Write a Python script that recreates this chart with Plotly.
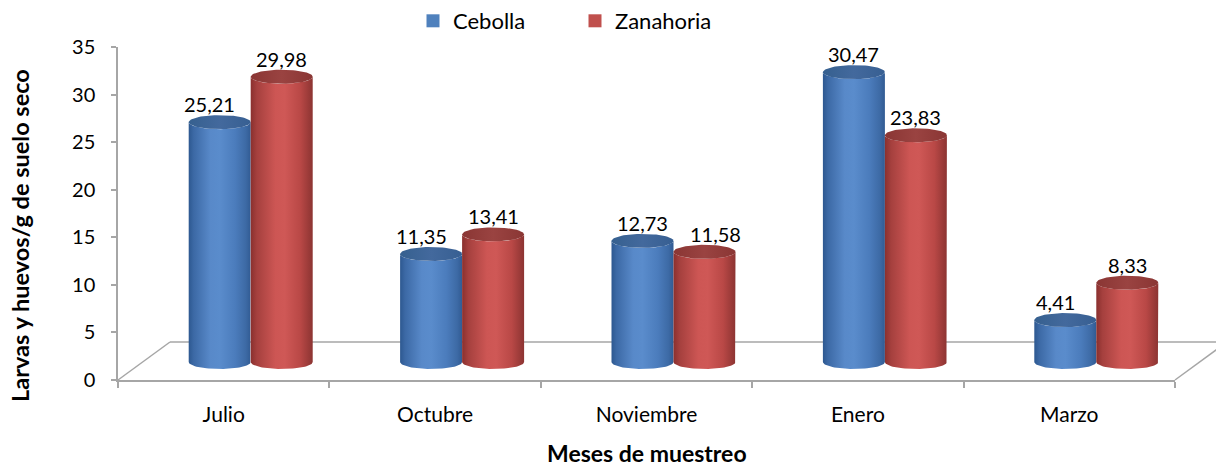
import numpy as np
import plotly.graph_objects as go

# ---------------- data ----------------
meses = ["Julio", "Octubre", "Noviembre", "Enero", "Marzo"]
series_names = ["Cebolla", "Zanahoria"]
cebolla = [25.21, 11.35, 12.73, 30.47, 4.41]
zanahoria = [29.98, 13.41, 11.58, 23.83, 8.33]
y_ticks = [0, 5, 10, 15, 20, 25, 30, 35]

# ---------------- styling / geometry ----------------
W, H = 1216, 467
ML, MR, MT, MB = 118, 41, 47, 87
YMAX = 35
px_y = (H - MT - MB) / YMAX          # px per y unit
px_x = (W - ML - MR) / len(meses)    # px per category
shift_x = 27 / px_x                  # 3D depth shift of bars (x)
shift_y = 18 / px_y                  # 3D depth shift of bars (y)
hw = 31 / px_x                       # half bar width
eb = 7 / px_y                        # ellipse half height
FONT = "Lato, Carlito, Calibri, sans-serif"
AX = "#a6a6a6"

body_scales = {
    "Cebolla": [[0, "#2d5890"], [0.08, "#3c69a5"], [0.35, "#5889c9"], [0.5, "#5a8ccc"],
                [0.75, "#4b7cbc"], [0.92, "#3d6aa5"], [1, "#315b93"]],
    "Zanahoria": [[0, "#8a302e"], [0.1, "#a5403e"], [0.4, "#cd5654"], [0.55, "#cf5856"],
                  [0.8, "#b94846"], [1, "#8c3432"]],
}
top_scales = {
    "Cebolla": [[0, "#36608f"], [0.5, "#43699d"], [1, "#375f92"]],
    "Zanahoria": [[0, "#8a3634"], [0.5, "#9a4341"], [1, "#8a3634"]],
}
legend_colors = {"Cebolla": "#4f81bd", "Zanahoria": "#c0504d"}

fig = go.Figure()

# invisible trace to establish the category axis
fig.add_trace(go.Scatter(x=meses, y=[0] * len(meses), mode="markers",
                         marker=dict(opacity=0), showlegend=False, hoverinfo="skip"))

t_half = np.linspace(0, np.pi, 40)
t_full = np.linspace(0, 2 * np.pi, 80)

annotations = []
for s_idx, (name, vals) in enumerate(zip(series_names, [cebolla, zanahoria])):
    other = zanahoria if s_idx == 0 else cebolla
    for i, v in enumerate(vals):
        c = i + (-hw if s_idx == 0 else hw)
        xl, xr = c - hw, c + hw
        # body
        bx = np.concatenate([[xl], c - hw * np.cos(t_half), [xr], c + hw * np.cos(t_half)])
        by = np.concatenate([[0], v - eb * np.sin(t_half), [0], -eb * np.sin(t_half)])
        fig.add_trace(go.Scatter(
            x=bx, y=by, xaxis="x2", yaxis="y2", mode="lines", line=dict(width=0),
            fill="toself",
            fillgradient=dict(type="horizontal", colorscale=body_scales[name], start=xl, stop=xr),
            showlegend=False, hoverinfo="skip"))
        # top ellipse
        tx = c + hw * np.cos(t_full)
        ty = v + eb * np.sin(t_full)
        fig.add_trace(go.Scatter(
            x=tx, y=ty, xaxis="x2", yaxis="y2", mode="lines", line=dict(width=0),
            fill="toself",
            fillgradient=dict(type="horizontal", colorscale=top_scales[name], start=xl, stop=xr),
            showlegend=False, hoverinfo="skip"))
        # label (shift outward when labels would collide and this bar is lower)
        xs = 0
        if abs(v - other[i]) < 5 and v < other[i]:
            xs = -10 if s_idx == 0 else 11
        annotations.append(dict(
            x=c, y=v, xref="x2", yref="y2", text=f"{v:.2f}".replace(".", ","),
            showarrow=False, yanchor="middle", yshift=18, xshift=xs,
            font=dict(family=FONT, size=20, color="#000000")))

# legend entries
for name in series_names:
    fig.add_trace(go.Scatter(x=[None], y=[None], mode="markers", name=name,
                             marker=dict(symbol="square", size=13, color=legend_colors[name])))

# 3D floor outline
dxp = 52 / (W - ML - MR)
dyp = 38 / (H - MT - MB)
shapes = [
    dict(type="line", xref="paper", yref="paper", x0=0, y0=0, x1=dxp, y1=dyp,
         line=dict(color=AX, width=1.5), layer="below"),
    dict(type="line", xref="paper", yref="paper", x0=dxp, y0=dyp, x1=1 + dxp, y1=dyp,
         line=dict(color=AX, width=1.5), layer="below"),
    dict(type="line", xref="paper", yref="paper", x0=1, y0=0, x1=1 + dxp, y1=dyp,
         line=dict(color=AX, width=1.5), layer="below"),
]

annotations.append(dict(text="<b>Larvas y huevos/g de suelo seco</b>", xref="paper", yref="paper",
                        x=(20 - ML) / (W - ML - MR), y=(H - MB - 236) / (H - MT - MB),
                        xanchor="center", yanchor="middle",
                        textangle=-90, showarrow=False,
                        font=dict(family=FONT, size=23.5, color="#000000")))
annotations.append(dict(text="<b>Meses de muestreo</b>", xref="paper", yref="paper",
                        x=(647 - ML) / (W - ML - MR), y=(H - MB - 453) / (H - MT - MB),
                        xanchor="center", yanchor="middle",
                        showarrow=False, font=dict(family=FONT, size=23, color="#000000")))

fig.update_layout(
    width=W, height=H,
    margin=dict(l=ML, r=MR, t=MT, b=MB, autoexpand=False),
    paper_bgcolor="white", plot_bgcolor="white",
    font=dict(family=FONT, size=21, color="#000000"),
    xaxis=dict(type="category", categoryorder="array", categoryarray=meses,
               range=[-0.5, len(meses) - 0.5], tickson="boundaries", ticks="outside",
               ticklen=6, tickcolor=AX, tickwidth=1.5, showline=True, linecolor=AX,
               linewidth=1.5, showgrid=False, zeroline=False, ticklabelstandoff=15,
               tickfont=dict(size=21), automargin=False),
    yaxis=dict(range=[0, YMAX], tickvals=y_ticks, ticks="outside", ticklen=5,
               tickcolor=AX, tickwidth=1.5, showline=True, linecolor=AX, linewidth=1.5,
               showgrid=False, zeroline=False, ticklabelstandoff=12, tickfont=dict(size=20),
               automargin=False),
    xaxis2=dict(overlaying="x", range=[-0.5 - shift_x, len(meses) - 0.5 - shift_x],
                visible=False),
    yaxis2=dict(overlaying="y", range=[-shift_y, YMAX - shift_y], visible=False),
    showlegend=True,
    legend=dict(orientation="h", x=(413 - ML) / (W - ML - MR), xanchor="left",
                yref="container", y=1, yanchor="top", font=dict(size=22), entrywidth=117,
                itemwidth=30, bgcolor="rgba(0,0,0,0)"),
    shapes=shapes,
    annotations=annotations,
)

fig.write_html("out.html", config={"displayModeBar": False},
               post_script="document.body.style.margin='0';document.body.style.padding='0';")
